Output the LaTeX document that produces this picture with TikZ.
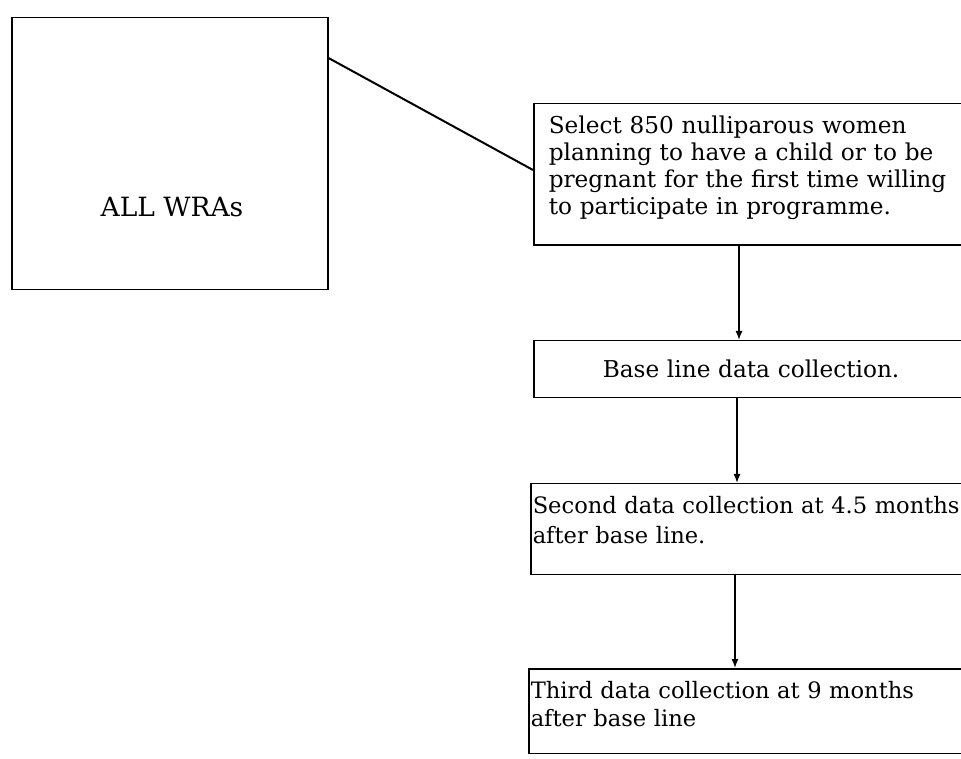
\documentclass[tikz,border=0pt]{standalone}
\usepackage{fontspec}
\setmainfont{DejaVu Serif}
\usetikzlibrary{arrows.meta}
\begin{document}
\begin{tikzpicture}[x=1pt,y=1pt,
  box/.style={draw, line width=1.5pt, rectangle, anchor=north west, inner ysep=12.5pt, align=left, font=\fontsize{23.2}{27}\selectfont},
  arr/.style={-{Latex[length=9pt,width=7pt]}, line width=1.4pt},
  link/.style={line width=2pt}]
\useasboundingbox (0,0) rectangle (961,758);
\clip (0,0) rectangle (961,758);
\node[draw, line width=1.5pt, anchor=north west, minimum width=316pt, minimum height=272pt, inner sep=0pt] (wra) at (11,741) {};
\node[anchor=base, font=\fontsize{26.5}{32}\selectfont] (wratext) at (172,541) {ALL WRAs};
\node[box, inner xsep=15pt, text width=437pt] (sel) at (533,655)
  {Select 850 nulliparous women\\ planning to have a child or to be\\ pregnant for the first time willing\\ to participate in programme.\rule[-17.5pt]{0pt}{17.5pt}};
\node[box, inner xsep=69pt, text width=329pt, minimum height=57pt, inner ysep=0pt] (base) at (533,418)
  {Base line data collection.};
\node[box, inner xsep=2pt, text width=463pt, font=\fontsize{22.6}{30}\selectfont] (second) at (530,275)
  {Second data collection at 4.5 months\\ after base line.\rule[-18.5pt]{0pt}{18.5pt}};
\node[box, inner xsep=2pt, text width=463pt, font=\fontsize{22.6}{28}\selectfont] (third) at (528,90)
  {Third data collection at 9 months\\ after base line\rule[-14.5pt]{0pt}{14.5pt}};
\draw[link] ([yshift=-41pt]wra.north east) -- ([yshift=-67pt]sel.north west);
\draw[arr] ([xshift=206pt]sel.south west) -- ([xshift=206pt]base.north west);
\draw[arr] ([xshift=204pt]base.south west) -- ([xshift=207pt]second.north west);
\draw[arr] ([xshift=205pt]second.south west) -- ([xshift=207pt]third.north west);
\end{tikzpicture}
\end{document}
